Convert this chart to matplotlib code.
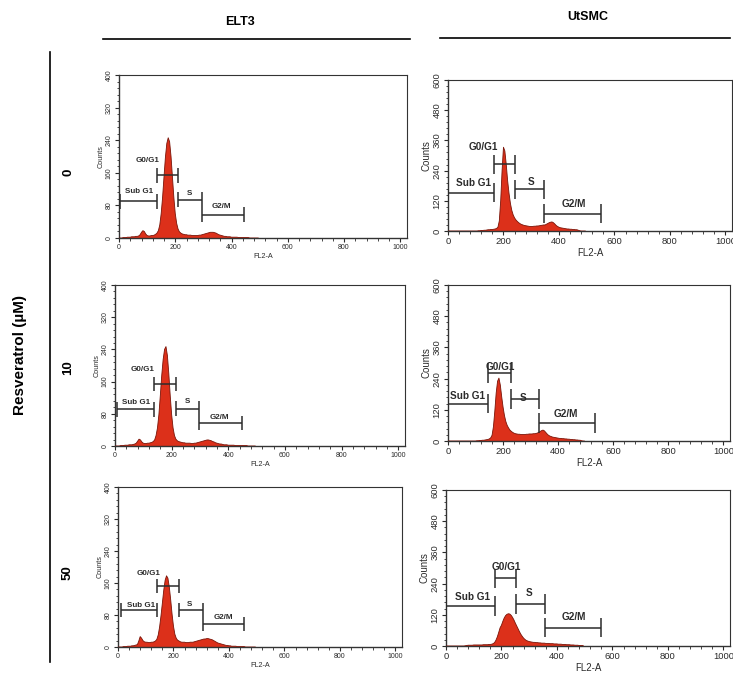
import numpy as np
import matplotlib
matplotlib.use("Agg")
import matplotlib.pyplot as plt
from matplotlib.ticker import MultipleLocator

plt.rcParams['font.family'] = ['Liberation Sans', 'DejaVu Sans']

# FL2-A channel (bin start), 5-channel bins over 0-495
channel = np.arange(0, 500, 5)

# DNA content histograms (counts per bin)
elt3_0uM = [
    0, 0, 0, 1, 1, 1, 2, 2, 2, 3,
    3, 3, 4, 4, 5, 8, 14, 18, 16, 10,
    6, 5, 5, 6, 6, 7, 9, 12, 18, 32,
    60, 100, 150, 198, 232, 246, 236, 200, 150, 100,
    60, 36, 22, 15, 12, 10, 9, 8, 8, 7,
    7, 7, 6, 6, 6, 6, 6, 7, 7, 8,
    9, 10, 11, 12, 13, 14, 14, 14, 13, 12,
    10, 8, 7, 6, 5, 4, 4, 3, 3, 3,
    2, 2, 2, 2, 2, 1, 1, 1, 1, 1,
    1, 1, 1, 0, 0, 0, 0, 0, 0, 0]
elt3_10uM = [
    0, 0, 0, 0, 1, 1, 1, 2, 2, 2,
    3, 3, 3, 4, 5, 7, 12, 17, 15, 10,
    7, 6, 6, 7, 7, 8, 9, 11, 15, 26,
    45, 78, 125, 175, 215, 240, 247, 225, 180, 125,
    78, 45, 26, 17, 13, 11, 10, 9, 8, 8,
    7, 7, 7, 7, 6, 6, 7, 7, 8, 9,
    10, 11, 12, 13, 14, 15, 15, 14, 13, 11,
    10, 8, 7, 6, 5, 5, 4, 3, 3, 3,
    2, 2, 2, 2, 2, 1, 1, 1, 1, 1,
    1, 1, 1, 1, 0, 0, 0, 0, 0, 0]
elt3_50uM = [
    0, 0, 0, 0, 1, 1, 1, 2, 2, 2,
    3, 3, 4, 5, 6, 15, 26, 22, 16, 13,
    12, 12, 11, 11, 12, 12, 13, 15, 19, 30,
    50, 78, 110, 142, 167, 178, 172, 150, 118, 82,
    52, 32, 22, 17, 15, 13, 12, 12, 12, 11,
    11, 11, 12, 12, 12, 13, 14, 15, 16, 17,
    18, 19, 20, 20, 21, 21, 20, 19, 18, 16,
    14, 12, 10, 9, 8, 7, 6, 5, 4, 4,
    3, 3, 2, 2, 2, 2, 1, 1, 1, 1,
    1, 1, 0, 0, 0, 0, 0, 0, 0, 0]
utsmc_0uM = [
    0, 0, 0, 0, 0, 0, 0, 0, 0, 0,
    0, 0, 0, 0, 0, 0, 0, 0, 0, 0,
    0, 0, 1, 1, 2, 2, 3, 3, 4, 5,
    5, 6, 6, 7, 8, 10, 15, 40, 120, 240,
    333, 318, 265, 200, 150, 110, 82, 64, 52, 44,
    38, 33, 29, 26, 24, 22, 21, 20, 19, 18,
    18, 18, 19, 19, 20, 20, 21, 22, 23, 24,
    24, 27, 30, 33, 35, 36, 33, 28, 22, 18,
    15, 13, 12, 11, 10, 9, 8, 8, 7, 7,
    6, 6, 5, 5, 3, 1, 0, 0, 0, 0]
utsmc_10uM = [
    0, 0, 0, 0, 0, 0, 0, 0, 0, 0,
    0, 0, 0, 0, 0, 0, 0, 0, 0, 0,
    0, 1, 1, 2, 2, 3, 3, 4, 5, 6,
    8, 12, 22, 55, 115, 185, 230, 242, 215, 170,
    130, 98, 75, 60, 50, 42, 37, 33, 30, 28,
    27, 26, 26, 25, 25, 25, 25, 26, 26, 27,
    27, 27, 28, 28, 29, 31, 33, 37, 40, 42,
    39, 33, 27, 22, 19, 17, 15, 14, 13, 12,
    11, 10, 10, 9, 9, 8, 8, 7, 7, 6,
    6, 5, 5, 4, 4, 3, 3, 1, 0, 0]
utsmc_50uM = [
    0, 0, 0, 0, 0, 0, 0, 0, 0, 0,
    0, 0, 0, 0, 1, 2, 3, 3, 3, 3,
    4, 4, 4, 4, 4, 4, 4, 5, 5, 5,
    5, 6, 6, 7, 9, 13, 22, 35, 52, 70,
    80, 95, 108, 117, 122, 124, 123, 118, 110, 100,
    88, 77, 66, 55, 45, 37, 30, 25, 21, 19,
    17, 16, 15, 14, 14, 13, 13, 12, 12, 11,
    11, 11, 10, 10, 10, 9, 9, 9, 8, 8,
    8, 7, 7, 7, 6, 6, 6, 5, 5, 5,
    4, 4, 4, 3, 3, 3, 2, 2, 2, 1]

cell_lines = ['ELT3', 'UtSMC']
doses = ['0', '10', '50']
gate_names = ['Sub G1', 'G0/G1', 'S', 'G2/M']

# gate markers: (start, end, level) in FL2-A / Counts units
elt3_gates = [
    [(2, 135, 90), (135, 210, 154), (210, 296, 94), (296, 445, 57)],
    [(6, 138, 91), (138, 214, 154), (214, 298, 93), (298, 447, 57)],
    [(12, 142, 92), (142, 220, 152), (220, 305, 92), (305, 454, 57)],
]
utsmc_gates = [
    [(0, 165, 152), (165, 243, 265), (243, 347, 165), (347, 551, 69)],
    [(0, 145, 144), (145, 227, 263), (227, 330, 163), (330, 533, 69)],
    [(0, 175, 153), (175, 254, 260), (254, 358, 163), (358, 559, 71)],
]

# layout: where each gate label sits
elt3_label_xy = [
    [(71, 115), (103, 189), (252, 109), (365, 77)],
    [(74, 107), (99, 190), (255, 110), (368, 72)],
    [(83, 104), (111, 183), (257, 106), (380, 73)],
]
utsmc_label_xy = [
    [(92, 192), (129, 332), (298, 196), (454, 109)],
    [(72, 172), (189, 285), (273, 167), (427, 105)],
    [(94, 189), (217, 305), (298, 202), (462, 112)],
]

W, H = 733, 679
fig = plt.figure(figsize=(W / 100, H / 100), dpi=100)


def px_axes(left, top, right, bottom):
    return fig.add_axes([left / W, 1 - bottom / H, (right - left) / W, (bottom - top) / H])


panel_px = {
    ('ELT3', 0): (119, 75, 407, 238),
    ('ELT3', 1): (115, 285, 405, 446),
    ('ELT3', 2): (118, 487, 402, 647),
    ('UtSMC', 0): (448, 80, 732, 231),
    ('UtSMC', 1): (448, 285, 730, 441),
    ('UtSMC', 2): (446, 490, 730, 646),
}

hist_data = {
    'ELT3': [elt3_0uM, elt3_10uM, elt3_50uM],
    'UtSMC': [utsmc_0uM, utsmc_10uM, utsmc_50uM],
}
gates = {'ELT3': elt3_gates, 'UtSMC': utsmc_gates}
label_xy = {'ELT3': elt3_label_xy, 'UtSMC': utsmc_label_xy}

style = {
    'ELT3': dict(ymax=400, ymajor=80, yminor=16, tick_fs=5.0, lab_fs=5.2,
                 gate_fs=5.8, cap=18),
    'UtSMC': dict(ymax=600, ymajor=120, yminor=24, tick_fs=6.8, lab_fs=7.0,
                  gate_fs=7.2, cap=38),
}

fill_red = '#dc301a'
edge_red = '#7a1408'
ink = '#2b2b2b'

for line in cell_lines:
    st = style[line]
    for r in range(3):
        ax = px_axes(*panel_px[(line, r)])
        counts = np.asarray(hist_data[line][r], dtype=float)
        ax.fill_between(channel, 0, counts, facecolor=fill_red, edgecolor='none', zorder=2)
        ax.plot(channel, counts, color=edge_red, lw=0.6, zorder=3)

        for (x0, x1, yv), name, (lx, ly) in zip(gates[line][r], gate_names, label_xy[line][r]):
            ax.plot([x0, x1], [yv, yv], color=ink, lw=1.1, zorder=4, solid_capstyle='butt')
            ax.vlines([x0, x1], yv - st['cap'], yv + st['cap'], color=ink, lw=1.1, zorder=4)
            ax.text(lx, ly, name, ha='center', va='center', fontsize=st['gate_fs'],
                    fontweight='bold', color=ink, zorder=5)

        ax.set_xlim(0, 1024)
        ax.set_ylim(0, st['ymax'])
        ax.xaxis.set_major_locator(MultipleLocator(200))
        ax.xaxis.set_minor_locator(MultipleLocator(40))
        ax.yaxis.set_major_locator(MultipleLocator(st['ymajor']))
        ax.yaxis.set_minor_locator(MultipleLocator(st['yminor']))
        ax.tick_params(which='major', direction='out', length=3.0, width=0.8,
                       labelsize=st['tick_fs'], colors=ink, pad=1.5)
        ax.tick_params(which='minor', direction='out', length=1.8, width=0.6, colors=ink)
        ax.tick_params(top=False, right=False)
        for lbl in ax.get_yticklabels():
            lbl.set_rotation(90)
            lbl.set_va('center')
        for sp in ax.spines.values():
            sp.set_color('#333333')
            sp.set_linewidth(0.8)
        ax.spines['left'].set_linewidth(1.0)
        ax.spines['bottom'].set_linewidth(1.0)
        ax.set_xlabel('FL2-A', fontsize=st['lab_fs'], color=ink, labelpad=1)
        ax.set_ylabel('Counts', fontsize=st['lab_fs'], color=ink, labelpad=1)

# column headers with rules
fig.text(240 / W, 1 - 22 / H, 'ELT3', ha='center', va='center', fontsize=9, fontweight='bold')
fig.text(588 / W, 1 - 17 / H, 'UtSMC', ha='center', va='center', fontsize=9, fontweight='bold')
fig.add_artist(plt.Line2D([103 / W, 410 / W], [1 - 38.5 / H, 1 - 38.5 / H], color='black', lw=1.2))
fig.add_artist(plt.Line2D([440 / W, 730 / W], [1 - 37.5 / H, 1 - 37.5 / H], color='black', lw=1.2))

# row labels and dose axis
fig.add_artist(plt.Line2D([50 / W, 50 / W], [1 - 52 / H, 1 - 662 / H], color='black', lw=1.2))
for dose, yc in zip(doses, [172, 368, 573]):
    fig.text(68 / W, 1 - yc / H, dose, ha='center', va='center', rotation=90,
             fontsize=9.5, fontweight='bold')
fig.text(20 / W, 1 - 355 / H, 'Resveratrol (µM)', ha='center', va='center', rotation=90,
         fontsize=11, fontweight='bold')

fig.savefig('out.png', dpi=100)
